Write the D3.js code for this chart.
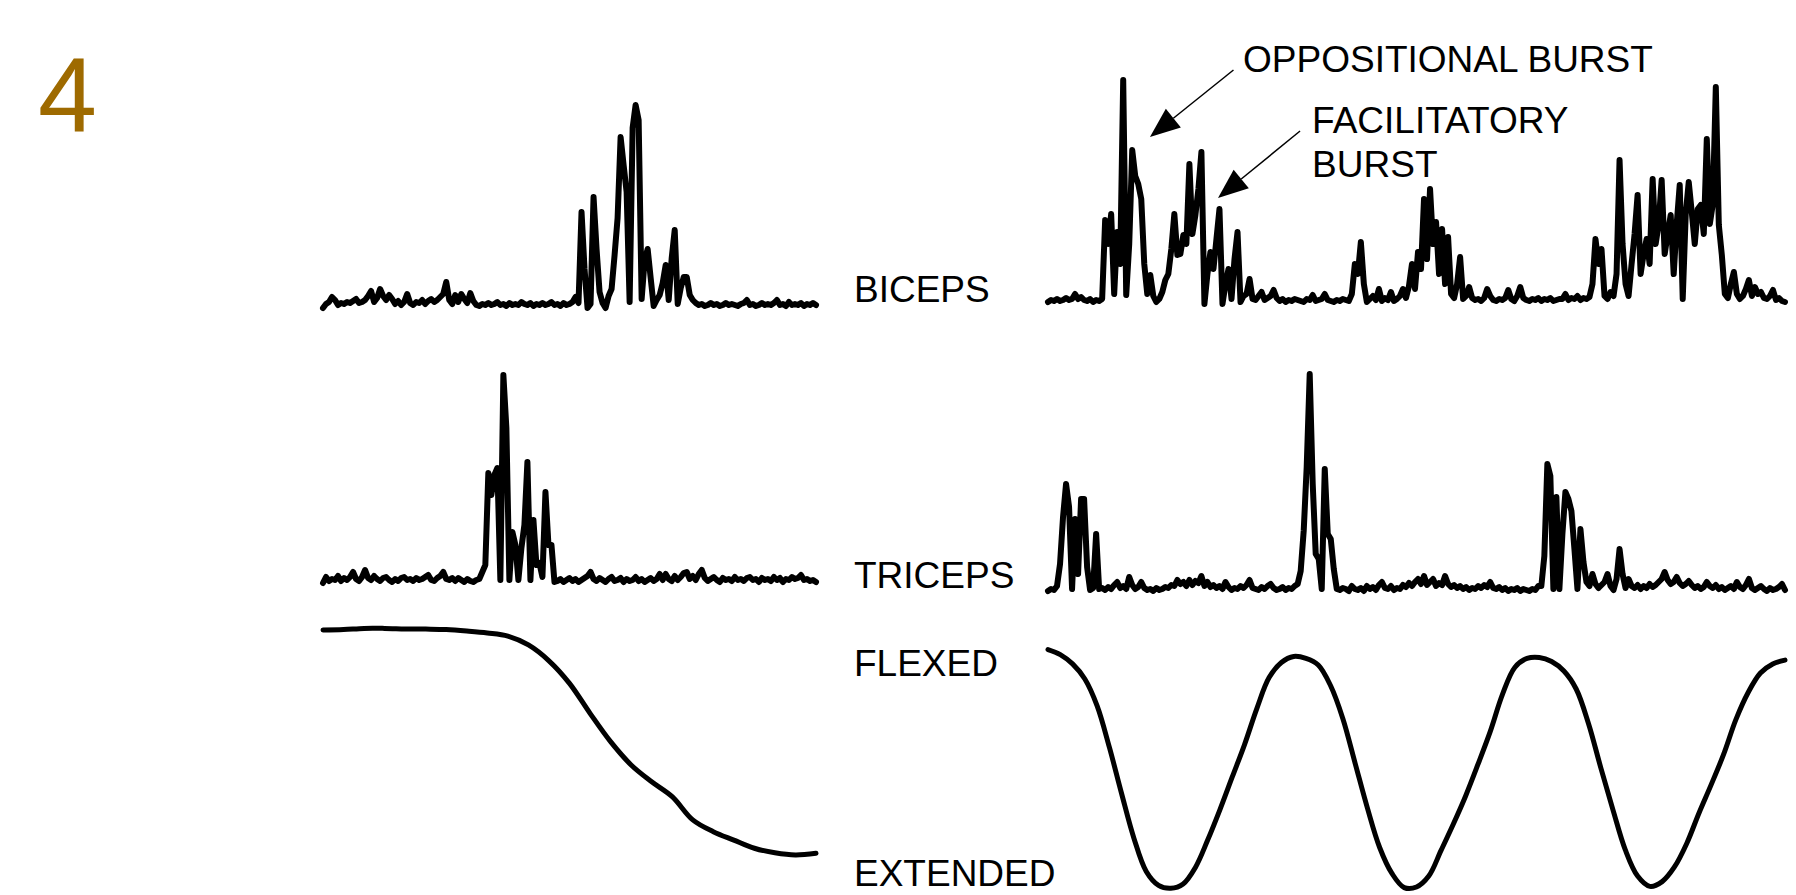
<!DOCTYPE html>
<html>
<head>
<meta charset="utf-8">
<style>
  body { margin: 0; background: #fff; }
  text { font-family: "Liberation Sans", Arial, sans-serif; }
</style>
<script src="https://cdn.jsdelivr.net/npm/d3@7/dist/d3.min.js"></script>
</head>
<body>
<script>
// rectified EMG amplitude (a.u.), evenly sampled over each record
var bicepsSingle = [
  0, 4, 6, 11, 8, 3, 5, 4, 6, 5,
  7, 9, 5, 6, 8, 12, 17, 6, 10, 19,
  12, 8, 13, 9, 4, 7, 3, 6, 14, 5,
  3, 6, 5, 8, 4, 7, 9, 6, 8, 11,
  14, 26, 8, 4, 13, 6, 14, 9, 5, 15,
  7, 3, 2, 4, 3, 5, 3, 4, 6, 3,
  4, 2, 5, 3, 4, 3, 6, 4, 3, 5,
  2, 4, 3, 5, 3, 4, 6, 3, 4, 2,
  5, 3, 4, 6, 11, 5, 96, 39, 0, 4,
  111, 59, 16, 5, 0, 12, 19, 53, 90, 171,
  143, 116, 6, 180, 203, 188, 9, 48, 59, 30,
  2, 8, 13, 25, 43, 8, 50, 78, 4, 20,
  31, 31, 13, 8, 5, 3, 4, 2, 3, 5,
  3, 4, 2, 3, 5, 3, 4, 3, 2, 4,
  5, 8, 3, 4, 2, 3, 5, 3, 4, 3,
  5, 8, 3, 4, 2, 6, 3, 4, 3, 5,
  2, 4, 3, 5, 3
];
var tricepsSingle = [
  2, 8, 4, 6, 5, 9, 4, 7, 5, 8,
  13, 6, 4, 8, 15, 7, 5, 9, 6, 4,
  7, 8, 5, 3, 6, 4, 7, 8, 5, 6,
  4, 7, 5, 6, 8, 10, 5, 4, 7, 9,
  13, 6, 5, 7, 4, 7, 5, 3, 6, 4,
  3, 5,
  6, 13, 20, 112, 90, 110, 117, 5, 210, 157,
  5, 53, 40, 5, 37, 60, 123, 5, 65, 20,
  22, 8, 93, 40, 40, 3,
  4, 6, 3, 5, 7, 4, 6, 3, 5, 7,
  9, 13, 6, 4, 7, 5, 3, 6, 8, 4,
  5, 7, 3, 6, 4, 5, 8, 4, 6, 3,
  5, 7, 4, 6, 11, 5, 11, 6, 4, 9,
  5, 8, 12, 13, 6, 9, 5, 11, 15, 7,
  4, 6, 8, 5, 3, 7, 5, 6, 4, 8,
  5, 6, 4, 7, 8, 5, 6, 3, 7, 5,
  6, 4, 8, 5, 7, 3, 6, 5, 8, 6,
  7, 10, 5, 6, 4, 5, 3
];
var bicepsRepeat = [
  2, 4, 3, 5, 3, 4, 6, 4, 5, 10,
  5, 7, 4, 3, 5, 2, 4, 3,
  5, 84, 60, 90, 10, 72, 40,
  224, 9, 60, 154, 128,
  120, 105, 40, 10, 29, 8, 2, 5, 12, 24,
  30, 55, 90, 49, 50, 69, 60, 140, 70, 89,
  115, 152, 0, 30, 52, 35, 65, 95, 0, 20,
  35, 5, 45, 72, 2, 8, 10, 25, 5, 4,
  8, 12, 4, 6, 8, 14, 6,
  3, 5, 2, 4, 3, 5, 4, 3, 2, 5, 4, 9, 3, 4, 5, 10, 4, 3, 2, 4, 3, 5, 4, 3,
  10, 40, 30, 62, 20, 2, 5, 8, 4,
  15, 3, 6, 4, 12, 3, 5, 8, 15, 6,
  18, 40, 15, 52, 35, 105, 45, 115, 60, 82,
  30, 75, 20, 67, 10, 6, 20, 47, 5, 8,
  17, 6, 4, 5, 3, 6, 15, 8, 4, 3,
  5, 4, 6, 14, 5, 3, 8, 17, 6, 4,
  3, 5, 4, 6, 3, 5, 4, 6, 3, 4, 5,
  5, 10, 4, 6, 5, 8, 4, 6, 5, 7,
  20, 65, 40, 55, 8, 5, 12, 8, 30,
  144, 60, 20, 8, 40, 70, 109, 30, 50, 65,
  40, 125, 60, 80, 124, 50, 70, 89, 30, 80,
  119, 5, 90, 122, 92, 60, 95, 99, 70, 165,
  80, 100, 217, 79, 49, 10, 6, 20, 32, 10,
  5, 8, 15, 24, 8, 17, 10, 12, 6, 5,
  8, 14, 4, 6, 3, 2
];
var tricepsRepeat = [
  3, 5, 4, 8, 30, 77, 110, 87, 5, 75, 20, 95, 95, 27, 4, 6, 60, 5,
  6, 4, 7, 5, 9, 12, 6, 8, 5, 17,
  9, 5, 7, 12, 6, 4, 5, 3, 6, 4,
  5, 7, 6, 9, 8, 14, 10, 12, 8, 14,
  9, 13, 11, 18, 8, 12, 7, 9, 6, 8,
  5, 12, 7, 4, 6, 5, 8, 6, 9, 14,
  6, 5, 4, 7, 5, 8, 10, 6, 4, 5,
  7, 4, 6, 5, 8, 10,
  23, 63, 127, 220, 110, 40, 35, 5, 125, 60, 55, 25, 5,
  4, 6, 5, 3, 8, 5, 4, 6, 3, 8,
  5, 7, 4, 9, 12, 6, 5, 8, 4, 6,
  5, 9, 7, 11, 8, 12, 15, 10, 18, 9,
  12, 15, 8, 11, 9, 18, 10, 7, 9, 6,
  8, 5, 7, 4, 6, 5, 8, 6, 9, 7,
  12, 6, 5, 7, 4, 6, 3, 5, 4, 6,
  3, 5, 4, 3, 5, 4, 8,
  8, 38, 130, 118, 5, 97, 5, 60, 102, 95,
  83, 45, 5, 65, 32, 12, 8, 20, 10, 6,
  9, 12, 20, 8, 4, 15, 45, 20, 6, 15, 8,
  6, 9, 5, 8, 6, 10, 7, 9, 12, 15,
  22, 14, 10, 12, 17, 11, 8, 10, 13, 9,
  6, 8, 5, 7, 12, 8, 6, 9, 5, 7,
  4, 6, 8, 5, 12, 7, 5, 9, 15, 6,
  4, 6, 8, 5, 3, 6, 4, 5, 7, 10,
  4
];

// elbow position (100 = flexed, 0 = extended), evenly sampled
var positionSingle = [108.3, 108.5, 109.0, 109.0, 108.8, 108.7, 108.5, 107.9, 107.1, 105.8,
  102.1, 95.5, 86.1, 73.6, 61.8, 52.1, 45.1, 38.9, 29.2, 24.3,
  20.8, 17.4, 15.5, 14.6, 15.3];
var positionRepeat = [100.2, 98.1, 94.2, 87.9, 76.7, 59.4, 40.0, 21.5, 7.7, 1.9,
  0.7, 2.5, 9.4, 20.8, 33.5, 47.1, 60.6, 75.6, 88.5, 94.8,
  97.3, 96.5, 93.75, 85.2, 71.5, 52.9, 34.2, 17.7, 6.9, 1.0,
  1.25, 5.8, 16.5, 27.5, 39.2, 52.3, 66.0, 81.5, 92.7, 96.5,
  96.9, 95.2, 91.25, 83.75, 69.4, 51.0, 33.3, 16.7, 5.8, 1.5,
  3.5, 9.6, 19.4, 32.1, 44.0, 56.5, 71.0, 82.3, 90.4, 94.2,
  95.8];

// record lengths in seconds
var durSingle = 2.0, durRepeat = 3.0;

var width = 1796,
    height = 895;

var svg = d3.select("body").append("svg")
    .attr("width", width)
    .attr("height", height);

var xSingle = d3.scaleLinear().domain([0, durSingle]).range([323, 816]);
var xRepeat = d3.scaleLinear().domain([0, durRepeat]).range([1048, 1785]);

function emgScale(base) {
  return d3.scaleLinear().domain([0, 230]).range([base, base - 230]);
}
var yBicepsS = emgScale(308),
    yBicepsR = emgScale(304),
    yTricepsS = emgScale(585),
    yTricepsR = emgScale(594);
var yPos = d3.scaleLinear().domain([0, 100]).range([890, 650]);

function trace(values, x, y, dur, curve, w) {
  var line = d3.line()
      .x(function(d, i) { return x(i * dur / (values.length - 1)); })
      .y(function(d) { return y(d); })
      .curve(curve);
  svg.append("path")
      .datum(values)
      .attr("d", line)
      .attr("fill", "none")
      .attr("stroke", "#000")
      .attr("stroke-width", w)
      .attr("stroke-linejoin", "round")
      .attr("stroke-linecap", "round");
}

trace(bicepsSingle, xSingle, yBicepsS, durSingle, d3.curveLinear, 6);
trace(bicepsRepeat, xRepeat, yBicepsR, durRepeat, d3.curveLinear, 6);
trace(tricepsSingle, xSingle, yTricepsS, durSingle, d3.curveLinear, 6);
trace(tricepsRepeat, xRepeat, yTricepsR, durRepeat, d3.curveLinear, 6);
trace(positionSingle, xSingle, yPos, durSingle, d3.curveCatmullRom, 5);
trace(positionRepeat, xRepeat, yPos, durRepeat, d3.curveCatmullRom, 5);

// panel number
svg.append("text")
    .attr("x", 38)
    .attr("y", 132)
    .attr("font-size", 106)
    .attr("fill", "#9e6a00")
    .text("4");

// row labels
var rowLabels = [
  {text: "BICEPS", y: 301.7},
  {text: "TRICEPS", y: 588.3},
  {text: "FLEXED", y: 675.7},
  {text: "EXTENDED", y: 886}
];
svg.selectAll(".row-label")
    .data(rowLabels)
  .enter().append("text")
    .attr("class", "row-label")
    .attr("x", 854)
    .attr("y", function(d) { return d.y; })
    .attr("font-size", 37)
    .text(function(d) { return d.text; });

// burst annotations, placed in the repeated biceps record (seconds, a.u.)
var notes = [
  {lines: ["OPPOSITIONAL BURST"], t: 0.794, a: 232.3, tip: [0.415, 167], tail: [0.755, 234]},
  {lines: ["FACILITATORY", "BURST"], t: 1.075, a: 171, tip: [0.692, 106], tail: [1.026, 173]}
];

notes.forEach(function(n) {
  var tx = xRepeat(n.tip[0]), ty = yBicepsR(n.tip[1]);
  var sx = xRepeat(n.tail[0]), sy = yBicepsR(n.tail[1]);
  var dx = sx - tx, dy = sy - ty, len = Math.sqrt(dx * dx + dy * dy);
  var ux = dx / len, uy = dy / len;
  var headL = 30, headW = 12;
  var bx = tx + ux * headL, by = ty + uy * headL;

  svg.append("line")
      .attr("x1", sx).attr("y1", sy)
      .attr("x2", bx).attr("y2", by)
      .attr("stroke", "#000")
      .attr("stroke-width", 1.5);

  svg.append("path")
      .attr("d", "M" + tx + "," + ty +
                 "L" + (bx - uy * headW) + "," + (by + ux * headW) +
                 "L" + (bx + uy * headW) + "," + (by - ux * headW) + "Z")
      .attr("fill", "#000");

  var label = svg.append("text")
      .attr("x", xRepeat(n.t))
      .attr("y", yBicepsR(n.a))
      .attr("font-size", 37);
  label.selectAll("tspan")
      .data(n.lines)
    .enter().append("tspan")
      .attr("x", xRepeat(n.t))
      .attr("dy", function(d, i) { return i === 0 ? 0 : 43.7; })
      .text(function(d) { return d; });
});
</script>
</body>
</html>
